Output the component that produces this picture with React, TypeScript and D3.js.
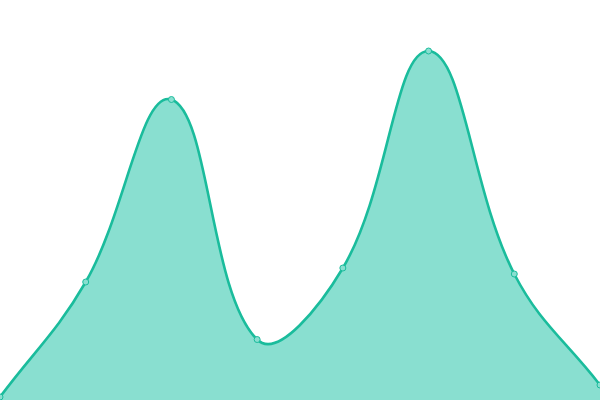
import React from "react";
import * as d3 from "d3";

const categories = [0, 1, 2, 3, 4, 5, 6, 7];
const values = [3, 118, 300.5, 60.5, 132, 349, 126, 15];

const W = 600;
const H = 400;
const TENSION = 0.4;

type P = [number, number];

function splinePath(pts: P[], close?: { baseY: number }) {
  const p = d3.path();
  const ctrl = pts.map((cur, i) => {
    const prev = pts[i - 1] || cur;
    const next = pts[i + 1] || cur;
    const d01 = Math.hypot(cur[0] - prev[0], cur[1] - prev[1]);
    const d12 = Math.hypot(next[0] - cur[0], next[1] - cur[1]);
    const s01 = d01 / (d01 + d12 || 1);
    const s12 = d12 / (d01 + d12 || 1);
    const fa = TENSION * s01;
    const fb = TENSION * s12;
    return {
      prev: [cur[0] - fa * (next[0] - prev[0]), cur[1] - fa * (next[1] - prev[1])] as P,
      next: [cur[0] + fb * (next[0] - prev[0]), cur[1] + fb * (next[1] - prev[1])] as P,
    };
  });
  p.moveTo(pts[0][0], pts[0][1]);
  for (let i = 1; i < pts.length; i++) {
    const a = ctrl[i - 1].next;
    const b = ctrl[i].prev;
    p.bezierCurveTo(a[0], a[1], b[0], b[1], pts[i][0], pts[i][1]);
  }
  if (close) {
    p.lineTo(pts[pts.length - 1][0], close.baseY);
    p.lineTo(pts[0][0], close.baseY);
    p.closePath();
  }
  return p.toString();
}

export default function App() {
  const x = d3.scaleLinear().domain([0, categories.length - 1]).range([0, W]);
  const y = d3.scaleLinear().domain([0, 400]).range([H, 0]);
  const pts: P[] = categories.map((c, i) => [x(c), y(values[i])]);
  return (
    <svg
      width={W}
      height={H}
      style={{ position: "fixed", left: 0, top: 0, display: "block" }}
    >
      <path d={splinePath(pts, { baseY: y(0) })} fill="#89dfd0" />
      <path d={splinePath(pts)} fill="none" stroke="#1abc9c" strokeWidth={2.6} />
      {pts.map((d, i) => (
        <circle
          key={i}
          cx={d[0]}
          cy={d[1]}
          r={3}
          fill="#89dfd0"
          stroke="#1abc9c"
          strokeWidth={1}
        />
      ))}
    </svg>
  );
}
